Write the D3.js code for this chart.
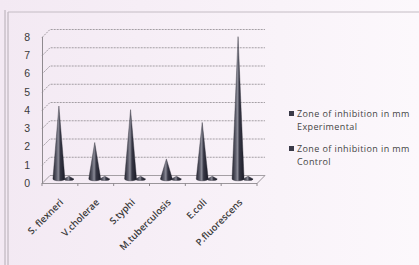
<!DOCTYPE html>
<html><head><meta charset="utf-8">
<script src="https://cdn.jsdelivr.net/npm/d3@7"></script>
<style>html,body{margin:0;padding:0;background:#f6eff6;}svg{display:block;}</style>
</head><body>
<svg id="c" width="419" height="265"></svg>
<script>
const categories = ["S. flexneri","V.cholerae","S.typhi","M.tuberculosis","E.coli","P.fluorescens"];
const seriesNames = ["Zone of inhibition in mm Experimental","Zone of inhibition in mm Control"];
const experimental = [4.0, 2.0, 3.8, 1.1, 3.1, 7.8];
const control = [0.15, 0.15, 0.15, 0.15, 0.15, 0.15];
const yTicks = [0,1,2,3,4,5,6,7,8];

const svg = d3.select("#c");
const W = 419, H = 265;
const defs = svg.append("defs");
const bg = defs.append("linearGradient").attr("id","bg").attr("x1","0").attr("x2","1").attr("y1","0").attr("y2","0");
bg.append("stop").attr("offset","0").attr("stop-color","#f3e9f3");
bg.append("stop").attr("offset","1").attr("stop-color","#fcf8fc");
svg.append("rect").attr("width",W).attr("height",H).attr("fill","url(#bg)");

const cg = defs.append("linearGradient").attr("id","cone").attr("x1","0").attr("x2","1").attr("y1","0").attr("y2","0");
[["0","#24242f"],["0.3","#5e5e6c"],["0.45","#8a8a96"],["0.62","#363644"],["1","#1a1a26"]].forEach(s=>cg.append("stop").attr("offset",s[0]).attr("stop-color",s[1]));

// frame
svg.append("line").attr("x1",5).attr("x2",5).attr("y1",10).attr("y2",H).attr("stroke","#b4acb4").attr("stroke-width",1);
svg.append("line").attr("x1",8).attr("x2",8).attr("y1",12).attr("y2",H).attr("stroke","#b4acb4").attr("stroke-width",1);
svg.append("line").attr("x1",8).attr("x2",W).attr("y1",12).attr("y2",12).attr("stroke","#c4bcc4").attr("stroke-width",1);

const x0 = d3.scaleBand().domain(categories).range([42,257]).paddingInner(0.44).paddingOuter(0.22);
const x1 = d3.scaleBand().domain([0,1]).range([0,x0.bandwidth()]);
const y = d3.scaleLinear().domain([0,8]).range([183,37]);
const dx = 8, dy = -8; // depth offset

const g = svg.append("g");
yTicks.forEach(v=>{
  g.append("path")
   .attr("d",`M42,${y(v)+0.5}L${42+dx},${y(v)+dy+0.5}H265`)
   .attr("fill","none").attr("stroke","#8f8a8f").attr("stroke-width",0.8).attr("stroke-dasharray", v===0?null:"2,1");
});
g.append("line").attr("x1",42.5).attr("x2",42.5).attr("y1",y(8)).attr("y2",y(0)+1).attr("stroke","#8f8a8f");
g.append("path").attr("d",`M42,${y(0)+0.5}H257L265,${y(0)+dy+0.5}`).attr("fill","none").attr("stroke","#8f8a8f").attr("stroke-width",0.9);
const bounds = d3.range(categories.length+1).map(i=>42+i*x0.step());
bounds.forEach(b=>g.append("line").attr("x1",b).attr("x2",b).attr("y1",y(0)).attr("y2",y(0)+3).attr("stroke","#8f8a8f"));

const yAxis = d3.axisLeft(y).tickValues(yTicks).tickSize(0).tickPadding(10).tickFormat(d3.format("d"));
const ya = svg.append("g").attr("transform","translate(40,0)").call(yAxis);
ya.select(".domain").remove();
ya.selectAll("text").attr("font-family","Liberation Sans, Arial, sans-serif").attr("font-size",10.5).attr("fill","#3a3a3a");

function cone(cx, base, top, hw){
  const ry = hw*0.3;
  return `M${cx-hw},${base}L${cx},${top}L${cx+hw},${base}A${hw},${ry} 0 0 1 ${cx-hw},${base}Z`;
}
const sx = dx/2, sy = dy/2;
[experimental, control].forEach((vals,si)=>{
  categories.forEach((c,i)=>{
    const cx = x0(c) + x1(si) + x1.bandwidth()/2 + sx;
    const base = y(0) + sy;
    const top = y(vals[i]) + sy;
    g.append("path").attr("d",cone(cx, base, top, si===0?6:5)).attr("fill","url(#cone)").attr("stroke","#2a2a36").attr("stroke-width",0.4);
  });
});

categories.forEach(c=>{
  const cx = x0(c) + x0.bandwidth()/2 + 4;
  svg.append("text").attr("transform",`translate(${cx},${y(0)+20}) rotate(-45)`)
    .attr("text-anchor","end").attr("font-family","Open Sans, Liberation Sans, sans-serif")
    .attr("font-size",9.5).attr("font-weight",600).attr("fill","#3a3a3a").text(c);
});

const lg = svg.append("g").attr("font-family","Open Sans, Liberation Sans, sans-serif").attr("font-size",9).attr("letter-spacing",0.4).attr("fill","#444");
const legendY = [117, 152];
seriesNames.forEach((s,i)=>{
  const parts = [s.slice(0, s.lastIndexOf(" ")), s.slice(s.lastIndexOf(" ")+1)];
  lg.append("rect").attr("x",289).attr("y",legendY[i]-6).attr("width",5).attr("height",5).attr("fill","#3a3a48");
  lg.append("text").attr("x",297).attr("y",legendY[i]).text(parts[0]);
  lg.append("text").attr("x",297).attr("y",legendY[i]+12.5).text(parts[1]);
});
</script>
</body></html>
